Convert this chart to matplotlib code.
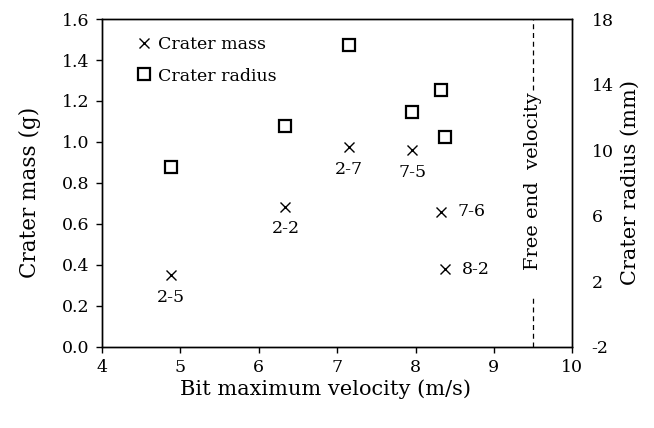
import matplotlib
matplotlib.use("Agg")
import matplotlib.pyplot as plt

plt.rcParams['font.family'] = ['DejaVu Serif']

# Data
velocity = [4.88, 6.34, 7.15, 7.96, 8.32, 8.38]
crater_mass = [0.35, 0.684, 0.974, 0.961, 0.66, 0.38]
crater_radius = [9.0, 11.5, 16.4, 12.35, 13.65, 10.8]
test_ids = ["2-5", "2-2", "2-7", "7-5", "7-6", "8-2"]
label_side = ["below", "below", "below", "below", "right", "right"]
free_end_velocity = 9.5

x_ticks = [4, 5, 6, 7, 8, 9, 10]
mass_ticks = [0.0, 0.2, 0.4, 0.6, 0.8, 1.0, 1.2, 1.4, 1.6]
radius_ticks = [-2, 2, 6, 10, 14, 18]

fig = plt.figure(figsize=(6.54, 4.28), dpi=100)
ax = fig.add_axes([0.156, 0.1893, 0.719, 0.7663])
ax2 = ax.twinx()

h1, = ax.plot(velocity, crater_mass, linestyle='none', marker='x', color='black',
              markersize=7, markeredgewidth=1.0, label='Crater mass')
h2, = ax2.plot(velocity, crater_radius, linestyle='none', marker='s', markerfacecolor='white',
               markeredgecolor='black', markersize=8, markeredgewidth=1.6, label='Crater radius')

for xv, yv, t, side in zip(velocity, crater_mass, test_ids, label_side):
    if side == "below":
        ax.annotate(t, (xv, yv), xytext=(0, -16), textcoords='offset points',
                    ha='center', va='center', fontsize=12.5)
    else:
        ax.annotate(t, (xv, yv), xytext=(22, 0), textcoords='offset points',
                    ha='center', va='center', fontsize=12.5)

# Free end velocity marker
ax.axvline(free_end_velocity, ymin=0.785, ymax=1.0, color='black', linestyle=(0, (4, 3)), linewidth=0.9)
ax.axvline(free_end_velocity, ymin=0.0, ymax=0.16, color='black', linestyle=(0, (4, 3)), linewidth=0.9)
ax.text(free_end_velocity, 0.81, 'Free end  velocity', rotation=90, ha='center', va='center',
        fontsize=14)

ax.set_xlim(4, 10)
ax.set_ylim(0, 1.6)
ax2.set_ylim(-2, 18)
ax.set_xticks(x_ticks)
ax.set_xticklabels([str(v) for v in x_ticks])
ax.set_yticks(mass_ticks)
ax.set_yticklabels([f"{v:.1f}" for v in mass_ticks])
ax2.set_yticks(radius_ticks)
ax2.set_yticklabels([str(v) for v in radius_ticks])

ax.tick_params(axis='both', direction='out', length=4, width=1, labelsize=12.5, pad=5)
ax2.tick_params(axis='y', length=0, labelsize=12.5, pad=14)

ax.set_xlabel('Bit maximum velocity (m/s)', fontsize=15)
ax.xaxis.set_label_coords(0.475, -0.1)
ax.set_ylabel('Crater mass (g)', fontsize=15.5)
ax.yaxis.set_label_coords(-0.13, 0.47)
ax2.set_ylabel('Crater radius (mm)', fontsize=15, labelpad=5)

for a in (ax, ax2):
    for s in a.spines.values():
        s.set_linewidth(1.0)
        s.set_color('black')

leg = ax.legend(handles=[h1, h2], loc='upper left', bbox_to_anchor=(0.06, 0.97), frameon=False,
                fontsize=12.5, handlelength=0.8, handletextpad=0.4, labelspacing=0.85, borderaxespad=0)

fig.savefig('out.png', dpi=100)
